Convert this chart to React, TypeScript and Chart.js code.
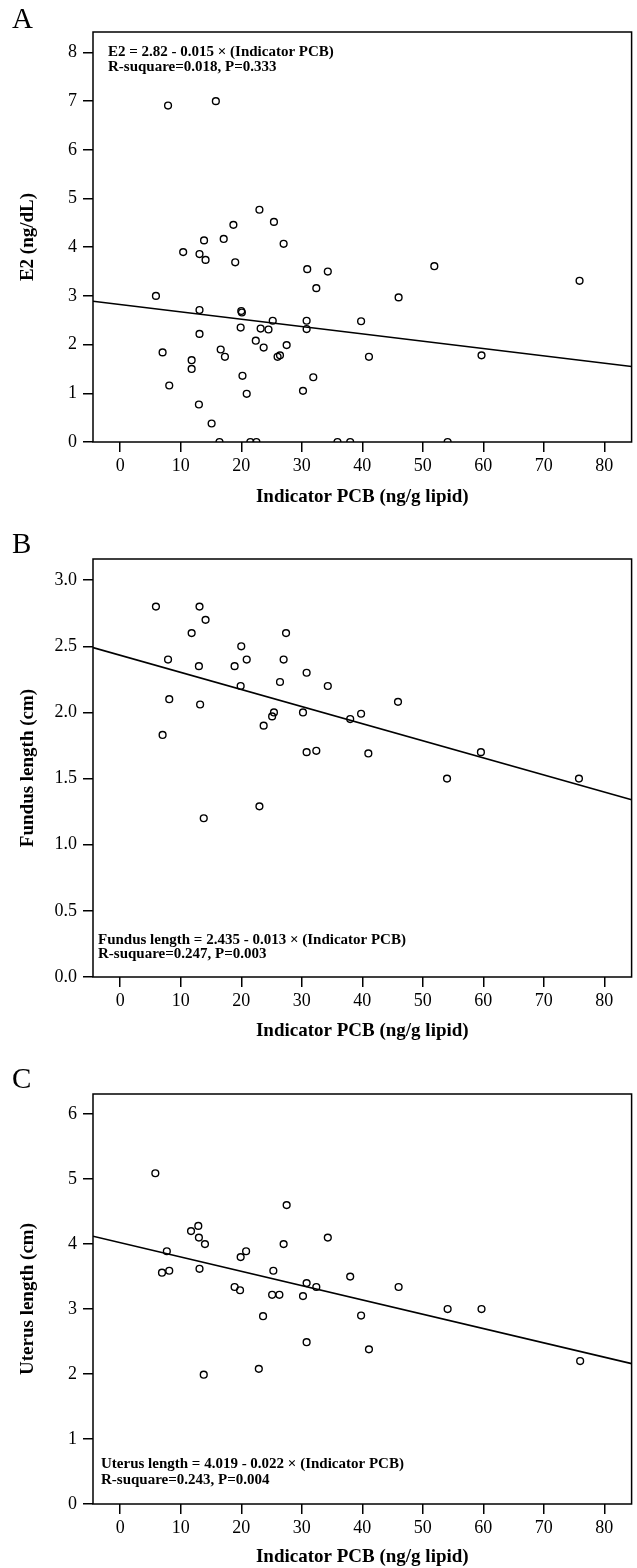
import React, { useEffect, useRef } from "react";
import { Chart, registerables } from "chart.js";
Chart.register(...registerables);

const FONT = "'Liberation Serif', 'Times New Roman', serif";

const xTicks = [0, 10, 20, 30, 40, 50, 60, 70, 80];
const xRange = [-4.5, 84.5];
const xTitle = "Indicator PCB (ng/g lipid)";

// Panel A: E2
const e2X = [7.9, 15.8, 18.7, 23.0, 25.4, 5.9, 7.0, 8.1, 10.4, 11.8, 11.8, 13.1, 13.1, 13.1, 13.0, 13.85, 14.1, 15.1, 16.4, 16.6, 17.3, 17.1, 19.0, 19.9, 20.0, 20.1, 20.2, 20.9, 21.5, 22.5, 22.4, 23.2, 23.7, 24.5, 25.2, 26.0, 26.4, 27.0, 27.5, 30.2, 30.8, 30.8, 30.9, 31.9, 32.4, 34.3, 35.9, 38.0, 39.8, 41.1, 46.0, 51.9, 54.1, 59.7, 75.9];
const e2Y = [6.91, 7.0, 4.46, 4.77, 4.52, 3.0, 1.84, 1.16, 3.9, 1.68, 1.5, 2.71, 3.86, 2.22, 0.77, 4.14, 3.74, 0.38, 0, 1.9, 1.75, 4.17, 3.69, 2.35, 2.69, 2.66, 1.36, 0.99, 0, 0, 2.08, 2.33, 1.94, 2.31, 2.49, 1.75, 1.78, 4.07, 1.99, 1.05, 2.32, 2.49, 3.55, 1.33, 3.16, 3.5, 0, 0, 2.48, 1.75, 2.97, 3.61, 0, 1.78, 3.31];
const e2LineY = [2.89, 1.55];
const e2YTicks = [0, 1, 2, 3, 4, 5, 6, 7, 8];
const e2YMax = 8.42;

// Panel B: Fundus length
const fundX = [5.9, 7.9, 7.0, 8.1, 11.8, 13.1, 13.0, 13.2, 14.1, 18.9, 20.0, 19.9, 20.9, 23.7, 25.1, 25.4, 26.4, 27.0, 27.4, 30.2, 30.8, 30.8, 32.4, 34.3, 38.0, 39.8, 13.8, 23.0, 45.9, 41.0, 54.0, 59.6, 75.8];
const fundY = [2.8, 2.4, 1.83, 2.1, 2.6, 2.8, 2.35, 2.06, 2.7, 2.35, 2.5, 2.2, 2.4, 1.9, 1.97, 2.0, 2.23, 2.4, 2.6, 2.0, 2.3, 1.7, 1.71, 2.2, 1.95, 1.99, 1.2, 1.29, 2.08, 1.69, 1.5, 1.7, 1.5];
const fundLineY = [2.49, 1.34];
const fundYTicks = [0, 0.5, 1.0, 1.5, 2.0, 2.5, 3.0];
const fundYMax = 3.16;

// Panel C: Uterus length
const utX = [5.8, 7.7, 6.9, 8.1, 11.7, 12.9, 13.0, 14.0, 13.1, 18.9, 19.8, 19.9, 20.8, 25.3, 25.1, 26.3, 27.0, 27.5, 30.2, 30.8, 32.4, 34.3, 38.0, 23.6, 30.8, 22.9, 13.8, 46.0, 39.8, 41.1, 54.1, 59.7, 76.0];
const utY = [5.09, 3.89, 3.56, 3.59, 4.2, 4.28, 4.1, 4.0, 3.62, 3.34, 3.29, 3.8, 3.89, 3.59, 3.22, 3.22, 4.0, 4.6, 3.2, 3.4, 3.34, 4.1, 3.5, 2.89, 2.49, 2.08, 1.99, 3.34, 2.9, 2.38, 3.0, 3.0, 2.2];
const utLineY = [4.12, 2.16];
const utYTicks = [0, 1, 2, 3, 4, 5, 6];
const utYMax = 6.31;

type PanelProps = {
  top: number;
  height: number;
  padTop: number;
  axisH: number;
  titleOffset: number;
  letter: string;
  xs: number[];
  ys: number[];
  lineY: number[];
  yMax: number;
  yTicks: number[];
  decimals: number;
  yTitle: string;
  notes: string[];
  noteX: number;
  noteY: number[];
};

function Panel(p: PanelProps) {
  const ref = useRef<HTMLCanvasElement | null>(null);
  useEffect(() => {
    if (!ref.current) return;
    const overlay = {
      id: "overlay" + p.letter,
      afterDraw(chart: any) {
        const { ctx, chartArea } = chart;
        ctx.save();
        ctx.strokeStyle = "#000";
        ctx.lineWidth = 1.5;
        ctx.strokeRect(chartArea.left, chartArea.top, chartArea.right - chartArea.left, chartArea.bottom - chartArea.top);
        ctx.fillStyle = "#000";
        ctx.font = `29px ${FONT}`;
        ctx.textBaseline = "alphabetic";
        ctx.textAlign = "left";
        ctx.fillText(p.letter, 12, 28);
        ctx.font = `bold 15px ${FONT}`;
        ctx.textBaseline = "middle";
        p.notes.forEach((t, i) => ctx.fillText(t, p.noteX, p.noteY[i]));
        ctx.restore();
      },
    };
    const points = p.xs.map((x, i) => ({ x, y: p.ys[i] }));
    const line = xRange.map((x, i) => ({ x, y: p.lineY[i] }));
    const chart = new Chart(ref.current, {
      type: "scatter",
      data: {
        datasets: [
          {
            type: "line",
            data: line,
            borderColor: "#000",
            borderWidth: 1.6,
            pointRadius: 0,
            fill: false,
          } as any,
          {
            data: points,
            pointRadius: 3.4,
            pointBorderWidth: 1.4,
            pointBorderColor: "#000",
            pointBackgroundColor: "rgba(255,255,255,0)",
            borderColor: "#000",
            backgroundColor: "rgba(255,255,255,0)",
          },
        ],
      },
      options: {
        responsive: false,
        animation: false,
        devicePixelRatio: 1,
        layout: { padding: { top: p.padTop, right: 4, left: 0, bottom: 0 } },
        plugins: { legend: { display: false }, tooltip: { enabled: false } },
        scales: {
          x: {
            type: "linear",
            min: xRange[0],
            max: xRange[1],
            afterBuildTicks: (s: any) => {
              s.ticks = xTicks.map((v) => ({ value: v }));
            },
            afterFit: (s: any) => {
              s.height = p.axisH;
            },
            ticks: {
              color: "#000",
              font: { family: FONT, size: 18 },
              padding: 3,
              maxRotation: 0,
              callback: (v: any) => String(v),
            },
            grid: { display: true, drawOnChartArea: false, drawTicks: true, tickLength: 10, color: "#000", lineWidth: 1.5 },
            border: { display: false },
            title: {
              display: true,
              text: xTitle,
              color: "#000",
              font: { family: FONT, size: 19, weight: "bold" },
              padding: { top: 0, bottom: p.axisH - p.titleOffset - 11.4 },
            },
          },
          y: {
            type: "linear",
            min: 0,
            max: p.yMax,
            afterBuildTicks: (s: any) => {
              s.ticks = p.yTicks.map((v) => ({ value: v }));
            },
            afterFit: (s: any) => {
              s.width = 93;
            },
            ticks: {
              color: "#000",
              font: { family: FONT, size: 18 },
              padding: 6,
              callback: (v: any) => Number(v).toFixed(p.decimals),
            },
            grid: { display: true, drawOnChartArea: false, drawTicks: true, tickLength: 10, color: "#000", lineWidth: 1.5 },
            border: { display: false },
            title: {
              display: true,
              text: p.yTitle,
              color: "#000",
              font: { family: FONT, size: 19, weight: "bold" },
              padding: { top: 17, bottom: 0 },
            },
          },
        },
      } as any,
      plugins: [overlay],
    });
    return () => chart.destroy();
  }, []);
  return (
    <canvas
      ref={ref}
      width={637}
      height={p.height}
      style={{ position: "absolute", left: 0, top: p.top, width: 637, height: p.height }}
    />
  );
}

export default function App() {
  return (
    <div style={{ position: "absolute", left: 0, top: 0, width: 637, height: 1568, overflow: "hidden", background: "#fff" }}>
      <Panel
        top={0}
        height={520}
        padTop={32}
        axisH={78}
        titleOffset={55}
        letter="A"
        xs={e2X}
        ys={e2Y}
        lineY={e2LineY}
        yMax={e2YMax}
        yTicks={e2YTicks}
        decimals={0}
        yTitle="E2 (ng/dL)"
        notes={["E2 = 2.82 - 0.015 × (Indicator PCB)", "R-suquare=0.018, P=0.333"]}
        noteX={108}
        noteY={[52, 67]}
      />
      <Panel
        top={525}
        height={530}
        padTop={34}
        axisH={78}
        titleOffset={54}
        letter="B"
        xs={fundX}
        ys={fundY}
        lineY={fundLineY}
        yMax={fundYMax}
        yTicks={fundYTicks}
        decimals={1}
        yTitle="Fundus length (cm)"
        notes={["Fundus length = 2.435 - 0.013 × (Indicator PCB)", "R-suquare=0.247, P=0.003"]}
        noteX={98}
        noteY={[415, 429.5]}
      />
      <Panel
        top={1060}
        height={508}
        padTop={34}
        axisH={64}
        titleOffset={53}
        letter="C"
        xs={utX}
        ys={utY}
        lineY={utLineY}
        yMax={utYMax}
        yTicks={utYTicks}
        decimals={0}
        yTitle="Uterus length (cm)"
        notes={["Uterus length = 4.019 - 0.022 × (Indicator PCB)", "R-suquare=0.243, P=0.004"]}
        noteX={101}
        noteY={[404.5, 420.5]}
      />
    </div>
  );
}
